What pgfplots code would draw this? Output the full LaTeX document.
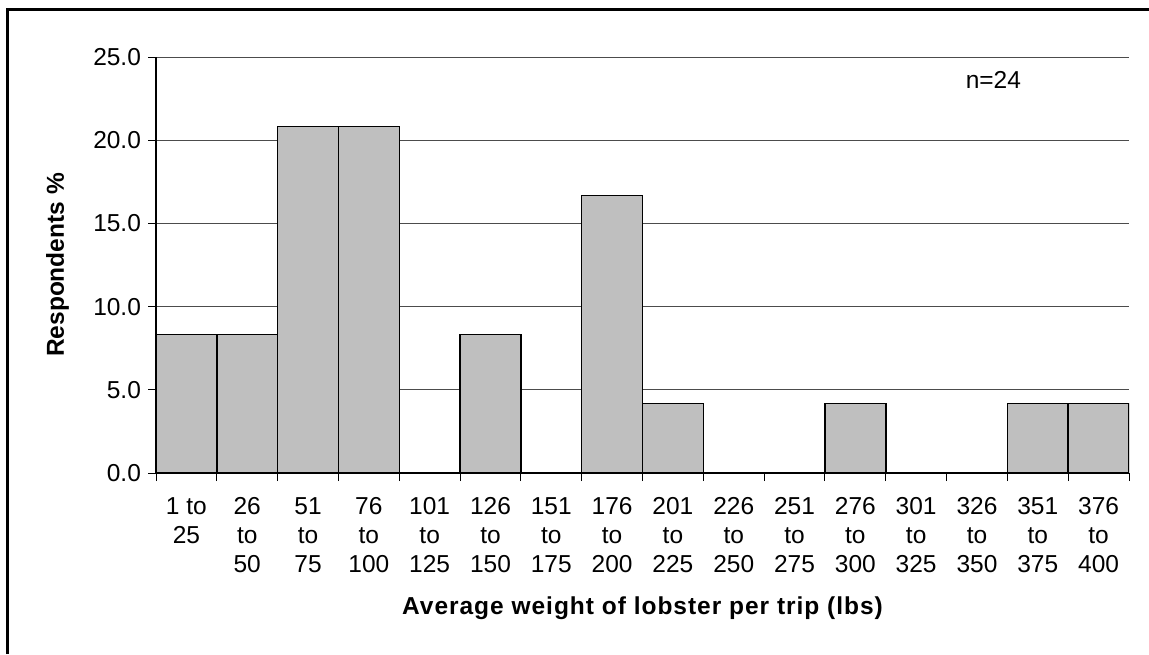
\documentclass[border=0pt]{standalone}
\usepackage{pgfplots}
\pgfplotsset{compat=1.18}
\usepackage{fontspec}
\setmainfont{Liberation Sans}
\newfontfamily\spacedbold{Liberation Sans}[LetterSpace=4]
\begin{document}
\begin{tikzpicture}
\useasboundingbox (0pt,0pt) rectangle (574.5pt,327pt);
\draw[line width=1.5pt] (3.75pt,0pt) -- (3.75pt,322.25pt) -- (574.5pt,322.25pt);
\begin{axis}[
  at={(78pt,90.5pt)}, anchor=south west,
  scale only axis, width=486.5pt, height=208pt,
  xmin=-0.5, xmax=15.5, ymin=0, ymax=25,
  axis x line=bottom, axis y line=left,
  axis line style={-, line width=0.6pt, black},
  ybar, bar width=1, bar shift=0pt,
  ytick={0,5,10,15,20,25},
  ymajorgrids, grid style={line width=0.5pt, black!70},
  yticklabel style={font=\fontsize{12.25}{14}\selectfont},
  /pgf/number format/fixed,
  /pgf/number format/fixed zerofill,
  /pgf/number format/precision=1,
  /pgf/number format/assume math mode=true,
  tick align=outside, major tick length=4pt,
  y tick style={black, line width=0.5pt},
  xtick={0,...,15},
  x tick style={draw=none},
  minor xtick={-0.5,0.5,...,15.5},
  minor x tick style={draw=black, line width=0.5pt},
  minor tick length=4pt,
  xticklabels={{\strut 1 to\\25},{\strut 26\\to\\50},{\strut 51\\to\\75},{\strut 76\\to\\100},{\strut 101\\to\\125},{\strut 126\\to\\150},{\strut 151\\to\\175},{\strut 176\\to\\200},{\strut 201\\to\\225},{\strut 226\\to\\250},{\strut 251\\to\\275},{\strut 276\\to\\300},{\strut 301\\to\\325},{\strut 326\\to\\350},{\strut 351\\to\\375},{\strut 376\\to\\400}},
  xticklabel style={align=center, anchor=north, font=\fontsize{12.25}{14.5}\selectfont, yshift=-3pt},
  xlabel={Average weight of lobster per trip (lbs)},
  ylabel={Respondents \%},
  every axis x label/.style={at={([yshift=-70.5pt]axis description cs:0.5,0)}, anchor=base, font=\spacedbold\bfseries\fontsize{12.25}{14}\selectfont},
  every axis y label/.style={at={([xshift=-46pt]axis description cs:0,0.5)}, rotate=90, anchor=base, font=\bfseries\fontsize{12.25}{14}\selectfont},
]
\addplot[fill=black!25, draw=black, line width=0.75pt] coordinates {
(0,8.33) (1,8.33) (2,20.83) (3,20.83) (5,8.33) (7,16.67) (8,4.17) (11,4.17) (14,4.17) (15,4.17)};
\node[font=\fontsize{12.25}{14}\selectfont, anchor=center] at (axis cs:13.27,23.6) {n=24};
\end{axis}
\end{tikzpicture}
\end{document}
